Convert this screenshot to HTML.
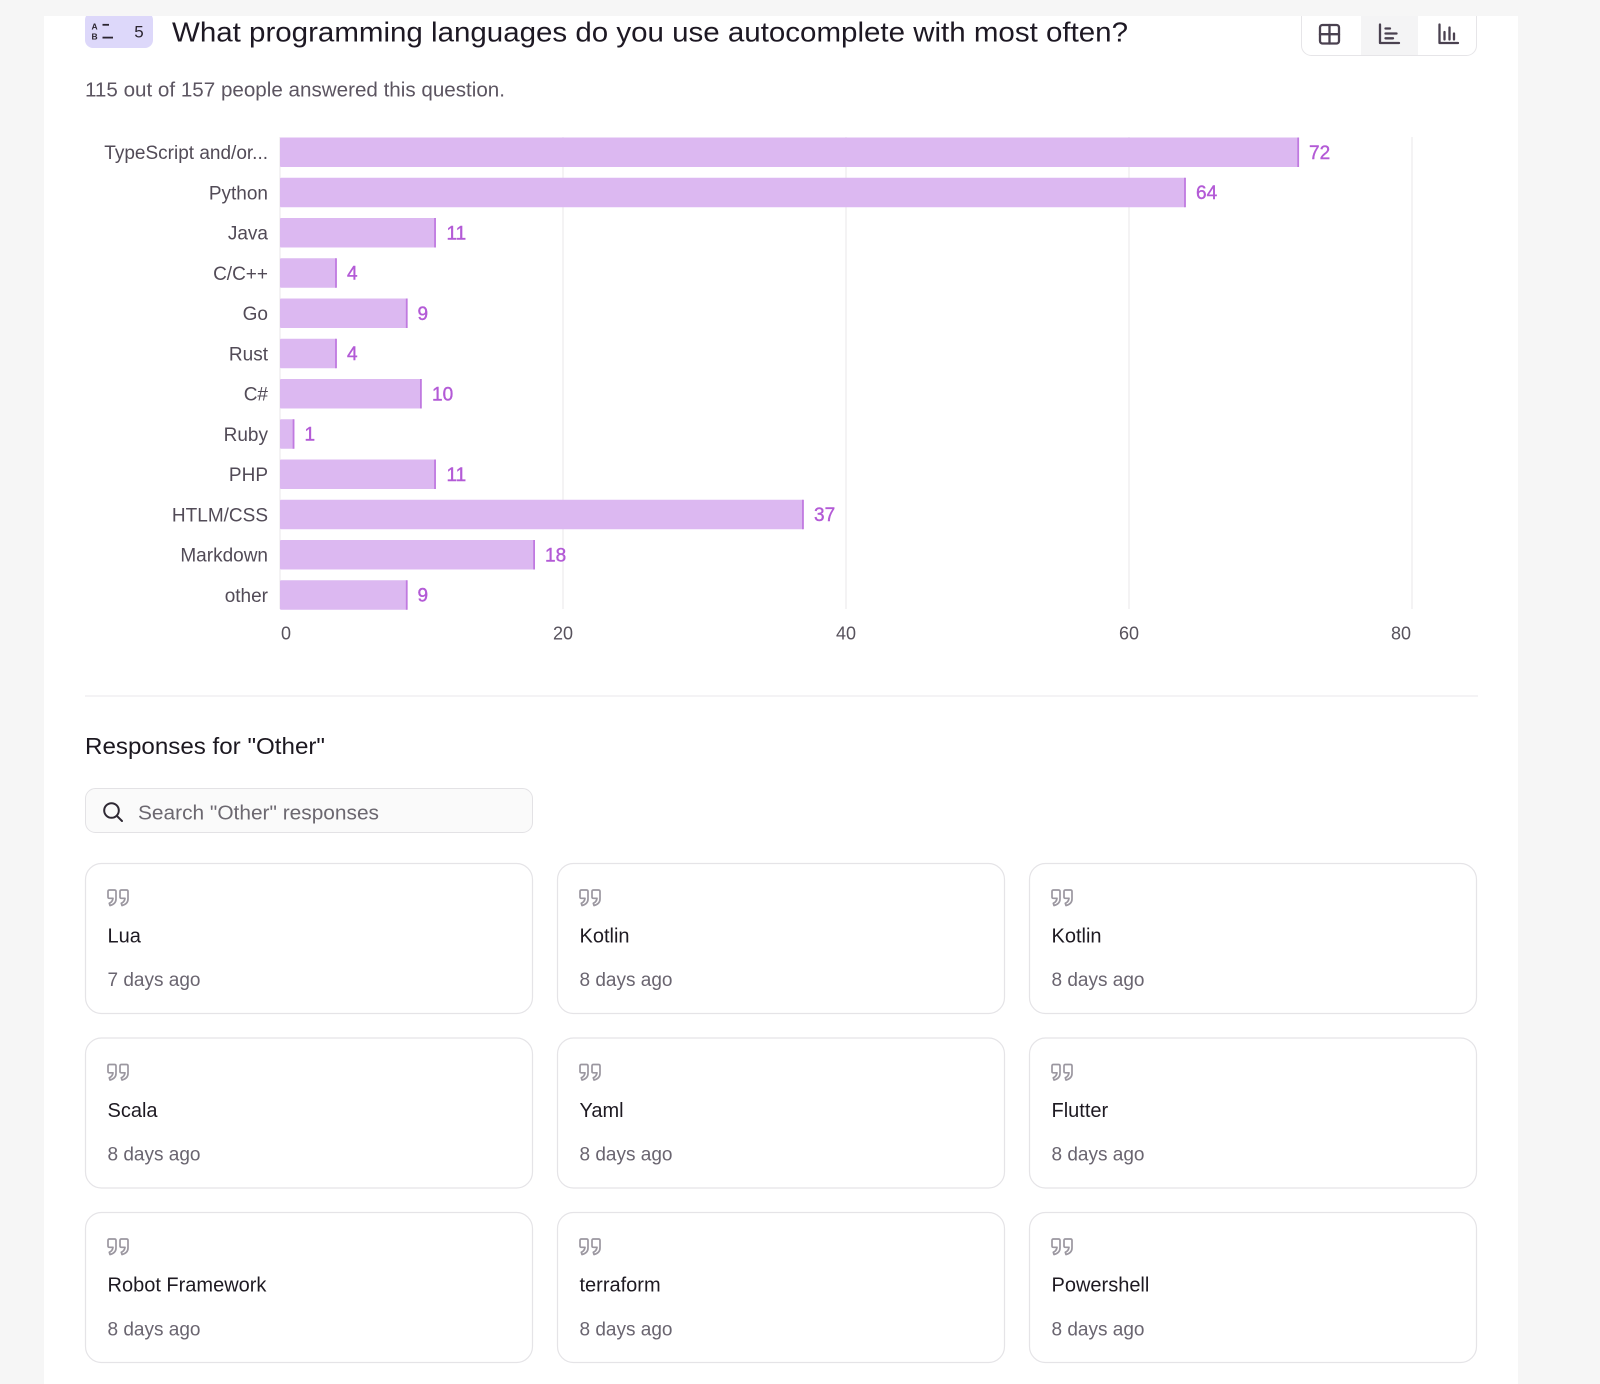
<!DOCTYPE html>
<html>
<head>
<meta charset="utf-8">
<style>
html,body{margin:0;padding:0;background:#f6f6f6;}
svg{display:block;}
text{font-family:"Liberation Sans",Arial,sans-serif;}
</style>
</head>
<body>
<svg width="1600" height="1384" viewBox="0 0 1600 1384" xmlns="http://www.w3.org/2000/svg">
  <rect x="0" y="0" width="1600" height="1384" fill="#f6f6f6"/>
  <rect x="44" y="16" width="1474" height="1368" fill="#ffffff"/>

  <!-- Badge -->
  <rect x="85" y="12" width="68" height="36" rx="8" fill="#ddd8fa"/>
  <text x="91.5" y="29.3" font-size="8.5" font-weight="bold" fill="#2b2530">A</text>
  <text x="91.5" y="39.6" font-size="8.5" font-weight="bold" fill="#2b2530">B</text>
  <line x1="102.5" y1="24.8" x2="109" y2="24.8" stroke="#2b2530" stroke-width="1.8"/>
  <line x1="102.5" y1="37.6" x2="113" y2="37.6" stroke="#2b2530" stroke-width="1.8"/>
  <text x="139" y="37.5" font-size="17" text-anchor="middle" fill="#2b2530">5</text>

  <!-- Title -->
  <text x="172" y="41.7" font-size="28" fill="#1d1823" textLength="956" lengthAdjust="spacingAndGlyphs">What programming languages do you use autocomplete with most often?</text>

  <!-- Toggle group -->
  <rect x="1301.5" y="6" width="175" height="49.5" rx="10" fill="#ffffff" stroke="#e6e5e8" stroke-width="1"/>
  <rect x="1361" y="6.5" width="57" height="48.5" fill="#f4f4f5"/>
  <g fill="none" stroke="#4a4150" stroke-width="2.3" stroke-linecap="round" stroke-linejoin="round">
    <rect x="1320" y="25" width="19" height="18.5" rx="2.5"/>
    <line x1="1329.5" y1="25" x2="1329.5" y2="43.5"/>
    <line x1="1320" y1="34.2" x2="1339" y2="34.2"/>
    <path d="M1380,24.5 V43 H1399"/>
    <line x1="1385.5" y1="28.5" x2="1390" y2="28.5"/>
    <line x1="1385.5" y1="33.5" x2="1396.5" y2="33.5"/>
    <line x1="1385.5" y1="38.3" x2="1393" y2="38.3"/>
    <path d="M1439.5,24.5 V43 H1458"/>
    <line x1="1444.5" y1="32" x2="1444.5" y2="39.5"/>
    <line x1="1449.5" y1="27.5" x2="1449.5" y2="39.5"/>
    <line x1="1454" y1="33.5" x2="1454" y2="39.5"/>
  </g>

  <!-- top gray band clip -->
  <rect x="0" y="0" width="1600" height="16" fill="#f6f6f6"/>

  <!-- Subtitle -->
  <text x="85" y="96.7" font-size="20" fill="#5c5561" textLength="420" lengthAdjust="spacingAndGlyphs">115 out of 157 people answered this question.</text>

  <!-- Gridlines -->
  <g stroke="#f0eff1" stroke-width="1.5">
    <line x1="280" y1="137" x2="280" y2="609"/>
    <line x1="563" y1="137" x2="563" y2="609"/>
    <line x1="846" y1="137" x2="846" y2="609"/>
    <line x1="1129" y1="137" x2="1129" y2="609"/>
    <line x1="1412" y1="137" x2="1412" y2="609"/>
  </g>

  <!-- Bars -->
  <g fill="#dcb8f1">
    <rect x="280" y="137.5" width="1018.8" height="29.5" rx="1"/>
    <rect x="280" y="177.75" width="905.6" height="29.5" rx="1"/>
    <rect x="280" y="218" width="155.65" height="29.5" rx="1"/>
    <rect x="280" y="258.25" width="56.6" height="29.5" rx="1"/>
    <rect x="280" y="298.5" width="127.35" height="29.5" rx="1"/>
    <rect x="280" y="338.75" width="56.6" height="29.5" rx="1"/>
    <rect x="280" y="379" width="141.5" height="29.5" rx="1"/>
    <rect x="280" y="419.25" width="14.15" height="29.5" rx="1"/>
    <rect x="280" y="459.5" width="155.65" height="29.5" rx="1"/>
    <rect x="280" y="499.75" width="523.55" height="29.5" rx="1"/>
    <rect x="280" y="540" width="254.7" height="29.5" rx="1"/>
    <rect x="280" y="580.25" width="127.35" height="29.5" rx="1"/>
  </g>
  <g fill="#c07ae0">
    <rect x="1297.3" y="137.5" width="1.8" height="29.5"/>
    <rect x="1184.1" y="177.75" width="1.8" height="29.5"/>
    <rect x="434.15" y="218" width="1.8" height="29.5"/>
    <rect x="335.1" y="258.25" width="1.8" height="29.5"/>
    <rect x="405.85" y="298.5" width="1.8" height="29.5"/>
    <rect x="335.1" y="338.75" width="1.8" height="29.5"/>
    <rect x="420" y="379" width="1.8" height="29.5"/>
    <rect x="292.65" y="419.25" width="1.8" height="29.5"/>
    <rect x="434.15" y="459.5" width="1.8" height="29.5"/>
    <rect x="802.05" y="499.75" width="1.8" height="29.5"/>
    <rect x="533.2" y="540" width="1.8" height="29.5"/>
    <rect x="405.85" y="580.25" width="1.8" height="29.5"/>
  </g>

  <!-- Category labels -->
  <g font-size="19" fill="#524b57" text-anchor="end">
    <text x="268" y="159.2">TypeScript and/or...</text>
    <text x="268" y="199.5">Python</text>
    <text x="268" y="239.7">Java</text>
    <text x="268" y="280">C/C++</text>
    <text x="268" y="320.2">Go</text>
    <text x="268" y="360.5">Rust</text>
    <text x="268" y="400.7">C#</text>
    <text x="268" y="441">Ruby</text>
    <text x="268" y="481.2">PHP</text>
    <text x="268" y="521.5">HTLM/CSS</text>
    <text x="268" y="561.7">Markdown</text>
    <text x="268" y="602">other</text>
  </g>

  <!-- Value labels -->
  <g font-size="19" fill="#b35ad6" stroke="#b35ad6" stroke-width="0.4">
    <text x="1309" y="158.8">72</text>
    <text x="1196" y="199">64</text>
    <text x="446.5" y="239.3">11</text>
    <text x="347" y="279.5">4</text>
    <text x="417.5" y="319.8">9</text>
    <text x="347" y="360">4</text>
    <text x="432" y="400.3">10</text>
    <text x="304.5" y="440.5">1</text>
    <text x="446.5" y="480.8">11</text>
    <text x="814" y="521">37</text>
    <text x="545" y="561.3">18</text>
    <text x="417.5" y="601.5">9</text>
  </g>

  <!-- Tick labels -->
  <g font-size="18" fill="#57525c">
    <text x="281" y="639.5">0</text>
    <text x="563" y="639.5" text-anchor="middle">20</text>
    <text x="846" y="639.5" text-anchor="middle">40</text>
    <text x="1129" y="639.5" text-anchor="middle">60</text>
    <text x="1411" y="639.5" text-anchor="end">80</text>
  </g>

  <!-- Separator -->
  <line x1="85" y1="696" x2="1478" y2="696" stroke="#f0eff2" stroke-width="1.5"/>

  <!-- Responses header -->
  <text x="85" y="754" font-size="23" fill="#1c1820" textLength="240" lengthAdjust="spacingAndGlyphs">Responses for "Other"</text>

  <!-- Search -->
  <rect x="85.5" y="788.5" width="447" height="44" rx="10" fill="#fafafa" stroke="#e3e2e5" stroke-width="1"/>
  <circle cx="111.5" cy="810.5" r="7.3" fill="none" stroke="#2e2833" stroke-width="2"/>
  <line x1="116.8" y1="815.8" x2="122" y2="821" stroke="#2e2833" stroke-width="2" stroke-linecap="round"/>
  <text x="138" y="819.3" font-size="20.5" fill="#6c6870" textLength="241" lengthAdjust="spacingAndGlyphs">Search "Other" responses</text>

  <!-- Quote icon symbol -->
  <defs>
    <g id="q" fill="none" stroke="#9b97a0" stroke-width="1.7" stroke-linejoin="round">
      <path d="M1,8 V2.5 Q1,1 2.5,1 H7.5 Q9,1 9,2.5 V10 Q9,15 3,16.5 L2.3,14.3 Q5.5,13 6,9.3 H2.5 Q1,9.3 1,8 Z"/>
      <path d="M13,8 V2.5 Q13,1 14.5,1 H19.5 Q21,1 21,2.5 V10 Q21,15 15,16.5 L14.3,14.3 Q17.5,13 18,9.3 H14.5 Q13,9.3 13,8 Z"/>
    </g>
  </defs>

  <!-- Cards -->
  <g fill="#ffffff" stroke="#e5e4e7" stroke-width="1.2">
    <rect x="85.5" y="863.5" width="447" height="150" rx="16"/>
    <rect x="557.5" y="863.5" width="447" height="150" rx="16"/>
    <rect x="1029.5" y="863.5" width="447" height="150" rx="16"/>
    <rect x="85.5" y="1038" width="447" height="150" rx="16"/>
    <rect x="557.5" y="1038" width="447" height="150" rx="16"/>
    <rect x="1029.5" y="1038" width="447" height="150" rx="16"/>
    <rect x="85.5" y="1212.5" width="447" height="150" rx="16"/>
    <rect x="557.5" y="1212.5" width="447" height="150" rx="16"/>
    <rect x="1029.5" y="1212.5" width="447" height="150" rx="16"/>
  </g>

  <use href="#q" x="107" y="889"/>
  <use href="#q" x="579" y="889"/>
  <use href="#q" x="1051" y="889"/>
  <use href="#q" x="107" y="1063.5"/>
  <use href="#q" x="579" y="1063.5"/>
  <use href="#q" x="1051" y="1063.5"/>
  <use href="#q" x="107" y="1238"/>
  <use href="#q" x="579" y="1238"/>
  <use href="#q" x="1051" y="1238"/>

  <g font-size="20" fill="#1e1a22">
    <text x="107.5" y="942.5">Lua</text>
    <text x="579.5" y="942.5">Kotlin</text>
    <text x="1051.5" y="942.5">Kotlin</text>
    <text x="107.5" y="1117">Scala</text>
    <text x="579.5" y="1117">Yaml</text>
    <text x="1051.5" y="1117">Flutter</text>
    <text x="107.5" y="1291.7">Robot Framework</text>
    <text x="579.5" y="1291.7">terraform</text>
    <text x="1051.5" y="1291.7">Powershell</text>
  </g>
  <g font-size="19" fill="#6a6570">
    <text x="107.5" y="985.8">7 days ago</text>
    <text x="579.5" y="985.8">8 days ago</text>
    <text x="1051.5" y="985.8">8 days ago</text>
    <text x="107.5" y="1160.3">8 days ago</text>
    <text x="579.5" y="1160.3">8 days ago</text>
    <text x="1051.5" y="1160.3">8 days ago</text>
    <text x="107.5" y="1335.5">8 days ago</text>
    <text x="579.5" y="1335.5">8 days ago</text>
    <text x="1051.5" y="1335.5">8 days ago</text>
  </g>
</svg>
</body>
</html>
